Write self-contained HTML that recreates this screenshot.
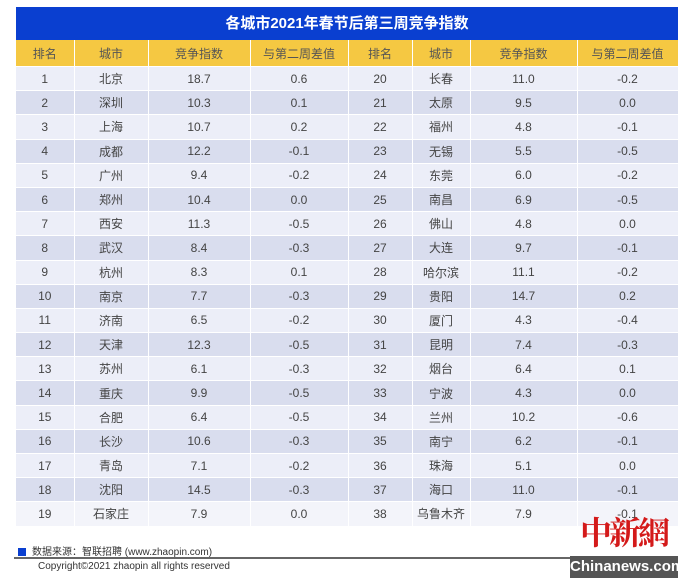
<!DOCTYPE html>
<html><head><meta charset="utf-8"><style>
body{margin:0;width:700px;height:580px;background:#fff;font-family:"Liberation Sans","Noto Sans CJK SC",sans-serif;position:relative;overflow:hidden}
.title{position:absolute;left:16px;top:7px;width:662px;height:33px;background:#0a3fd0;color:#fff;font-weight:bold;font-size:15px;line-height:33px;text-align:center}
table{position:absolute;left:16px;top:40px;width:662px;border-collapse:collapse;table-layout:fixed}
td{text-align:center;font-size:12px;color:#444;height:23.2px;padding:0;border-right:1px solid #fff;border-bottom:1px solid #fff}
tr.h td{background:#f5c842;height:26px;color:#555}
tr:nth-child(even) td{background:#eceef8}
tr:nth-child(odd):not(.h) td{background:#d9ddee}
tr:last-child td{background:#f3f4fa}
.src{position:absolute;left:18px;top:543px;font-size:10px;color:#333}
.src span{display:inline-block;width:8px;height:8px;background:#0a3fd0;margin-right:6px;vertical-align:-1px}
.line{position:absolute;left:14px;top:557px;width:560px;height:2px;background:#666}
.copy{position:absolute;left:38px;top:561px;font-size:10px;color:#333}
.wm{position:absolute;left:580px;top:508px;font-size:32px;color:#d41a1a;font-family:"Noto Serif CJK SC",serif;font-weight:bold;letter-spacing:-3px}
.cn{position:absolute;left:570px;top:556px;width:108px;height:22px;background:#555;color:#fff;font-weight:bold;font-size:15px;line-height:22px;text-align:center;overflow:hidden}
</style></head><body>
<div class="title">各城市2021年春节后第三周竞争指数</div>
<table>
<colgroup><col style="width:58px"><col style="width:74px"><col style="width:102px"><col style="width:98px"><col style="width:64px"><col style="width:58px"><col style="width:107px"><col style="width:101px"></colgroup>
<tr class="h"><td>排名</td><td>城市</td><td>竞争指数</td><td>与第二周差值</td><td>排名</td><td>城市</td><td>竞争指数</td><td>与第二周差值</td></tr>
<tr><td>1</td><td>北京</td><td>18.7</td><td>0.6</td><td>20</td><td>长春</td><td>11.0</td><td>-0.2</td></tr>
<tr><td>2</td><td>深圳</td><td>10.3</td><td>0.1</td><td>21</td><td>太原</td><td>9.5</td><td>0.0</td></tr>
<tr><td>3</td><td>上海</td><td>10.7</td><td>0.2</td><td>22</td><td>福州</td><td>4.8</td><td>-0.1</td></tr>
<tr><td>4</td><td>成都</td><td>12.2</td><td>-0.1</td><td>23</td><td>无锡</td><td>5.5</td><td>-0.5</td></tr>
<tr><td>5</td><td>广州</td><td>9.4</td><td>-0.2</td><td>24</td><td>东莞</td><td>6.0</td><td>-0.2</td></tr>
<tr><td>6</td><td>郑州</td><td>10.4</td><td>0.0</td><td>25</td><td>南昌</td><td>6.9</td><td>-0.5</td></tr>
<tr><td>7</td><td>西安</td><td>11.3</td><td>-0.5</td><td>26</td><td>佛山</td><td>4.8</td><td>0.0</td></tr>
<tr><td>8</td><td>武汉</td><td>8.4</td><td>-0.3</td><td>27</td><td>大连</td><td>9.7</td><td>-0.1</td></tr>
<tr><td>9</td><td>杭州</td><td>8.3</td><td>0.1</td><td>28</td><td>哈尔滨</td><td>11.1</td><td>-0.2</td></tr>
<tr><td>10</td><td>南京</td><td>7.7</td><td>-0.3</td><td>29</td><td>贵阳</td><td>14.7</td><td>0.2</td></tr>
<tr><td>11</td><td>济南</td><td>6.5</td><td>-0.2</td><td>30</td><td>厦门</td><td>4.3</td><td>-0.4</td></tr>
<tr><td>12</td><td>天津</td><td>12.3</td><td>-0.5</td><td>31</td><td>昆明</td><td>7.4</td><td>-0.3</td></tr>
<tr><td>13</td><td>苏州</td><td>6.1</td><td>-0.3</td><td>32</td><td>烟台</td><td>6.4</td><td>0.1</td></tr>
<tr><td>14</td><td>重庆</td><td>9.9</td><td>-0.5</td><td>33</td><td>宁波</td><td>4.3</td><td>0.0</td></tr>
<tr><td>15</td><td>合肥</td><td>6.4</td><td>-0.5</td><td>34</td><td>兰州</td><td>10.2</td><td>-0.6</td></tr>
<tr><td>16</td><td>长沙</td><td>10.6</td><td>-0.3</td><td>35</td><td>南宁</td><td>6.2</td><td>-0.1</td></tr>
<tr><td>17</td><td>青岛</td><td>7.1</td><td>-0.2</td><td>36</td><td>珠海</td><td>5.1</td><td>0.0</td></tr>
<tr><td>18</td><td>沈阳</td><td>14.5</td><td>-0.3</td><td>37</td><td>海口</td><td>11.0</td><td>-0.1</td></tr>
<tr><td>19</td><td>石家庄</td><td>7.9</td><td>0.0</td><td>38</td><td>乌鲁木齐</td><td>7.9</td><td>-0.1</td></tr>
</table>
<div class="src"><span></span>数据来源：智联招聘 (www.zhaopin.com)</div>
<div class="line"></div>
<div class="copy">Copyright©2021 zhaopin all rights reserved</div>
<div class="wm">中新網</div>
<div class="cn">Chinanews.com</div>
</body></html>
